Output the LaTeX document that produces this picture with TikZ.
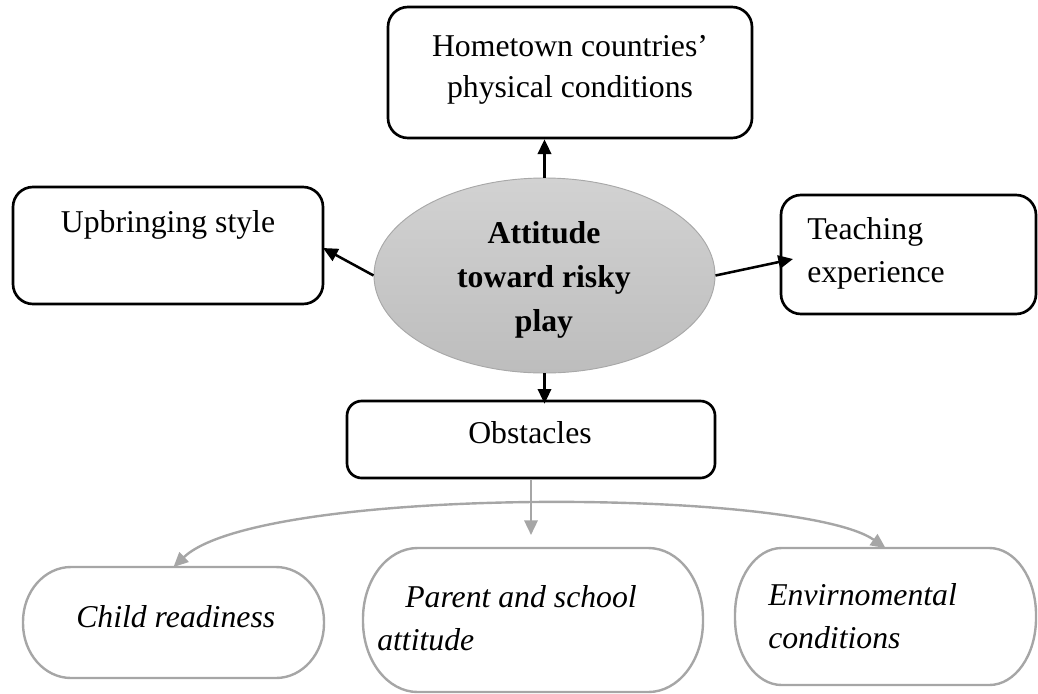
\documentclass[tikz,border=0pt]{standalone}
\usepackage{fontspec}
\setmainfont{Liberation Serif}
\usetikzlibrary{arrows.meta,calc,shapes.geometric}
\definecolor{linegray}{HTML}{A6A6A6}
\definecolor{elltop}{HTML}{D2D2D2}
\definecolor{ellbot}{HTML}{BDBDBD}
\definecolor{ellline}{HTML}{A8A8A8}
\newcommand\pillbox[3]{%
  \draw[pill] ([xshift=#2]#1.north west) -- ([xshift=-#2]#1.north east)
    arc[start angle=90,end angle=0,x radius=#2,y radius=#3]
    -- ([yshift=#3]#1.south east)
    arc[start angle=0,end angle=-90,x radius=#2,y radius=#3]
    -- ([xshift=#2]#1.south west)
    arc[start angle=270,end angle=180,x radius=#2,y radius=#3]
    -- ([yshift=-#3]#1.north west)
    arc[start angle=180,end angle=90,x radius=#2,y radius=#3]
    -- cycle;}
\begin{document}
\begin{tikzpicture}[x=0.75pt,y=-0.75pt,
  every node/.style={font=\fontsize{23.8}{31}\selectfont},
  blackbox/.style={draw=black,line width=2pt,rounded corners=15pt,inner sep=0pt},
  ghost/.style={inner sep=0pt,outer sep=0pt},
  pill/.style={draw=linegray,line width=1.8pt},
  txt/.style={inner sep=0pt,anchor=base},
  ltxt/.style={inner sep=0pt,anchor=base west,font=\fontsize{23.8}{31}\selectfont\itshape},
  blk/.style={draw=black,line width=1.9pt,-{Triangle[length=11pt,width=10pt]}},
  gry/.style={draw=linegray,line width=1.8pt,-{Triangle[length=11pt,width=10pt]}}]
\useasboundingbox (0,0) rectangle (1038,693);

% boxes
\node[blackbox,minimum width=273pt,minimum height=98.25pt] (home) at (570,72.5) {};
\node[blackbox,minimum width=232.5pt,minimum height=87.75pt] (up) at (168,245.5) {};
\node[blackbox,minimum width=191.25pt,minimum height=89.25pt] (teach) at (908.5,254.5) {};
\node[blackbox,rounded corners=11pt,minimum width=276pt,minimum height=57.75pt] (obs) at (531,439.5) {};
\node[ellipse,shading=axis,top color=elltop,bottom color=ellbot,draw=ellline,line width=0.7pt,
      minimum width=255.75pt,minimum height=146.25pt,inner sep=0pt] (att) at (544.5,275.5) {};
\node[ghost,minimum width=225.75pt,minimum height=83.25pt] (child) at (173.5,622.5) {};
\node[ghost,minimum width=255pt,minimum height=108pt] (parent) at (533,620) {};
\node[ghost,minimum width=225.75pt,minimum height=102.75pt] (env) at (885.5,616.5) {};
\pillbox{child}{36pt}{41pt}
\pillbox{parent}{41pt}{53pt}
\pillbox{env}{35pt}{50pt}

% texts
\node[txt] (t1) at (570,56) {Hometown countries’};
\node[txt] (t2) at (570,97) {physical conditions};
\node[txt] (t3) at (168,232) {Upbringing style};
\node[txt,anchor=base west] (t4) at (807,239) {Teaching};
\node[txt,anchor=base west] (t5) at (807,282) {experience};
\node[txt,font=\fontsize{23.8}{31}\selectfont\bfseries] (t6) at (544,243) {Attitude};
\node[txt,font=\fontsize{23.8}{31}\selectfont\bfseries] (t7) at (544,287) {toward risky};
\node[txt,font=\fontsize{23.8}{31}\selectfont\bfseries] (t8) at (544,331) {play};
\node[txt] (t9) at (530,443) {Obstacles};
\node[ltxt] (t10) at (76,627) {Child readiness};
\node[ltxt] (t11) at (405,607) {Parent and school};
\node[ltxt] (t12) at (377,650) {attitude};
\node[ltxt] (t13) at (768,605) {Envirnomental};
\node[ltxt] (t14) at (768,648) {conditions};

% connectors
\coordinate (tt) at (793,259);
\coordinate (ut) at (323,248);
\coordinate (ptip) at (531,535);
\draw[blk] (att.north) -- (att.north |- home.south);
\draw[blk] (att.west) -- (ut);
\draw[blk] (att.east) -- (tt);
\draw[blk] (att.south) -- ($(att.south |- obs.north)+(0,4)$);
\draw[gry] (obs.south) -- (ptip);
\draw[linegray,line width=1.8pt,{Triangle[length=11pt,width=10pt]}-{Triangle[length=11pt,width=10pt]}]
  (child.north) .. controls (260,485) and (800,488) .. (env.north);
\end{tikzpicture}
\end{document}
